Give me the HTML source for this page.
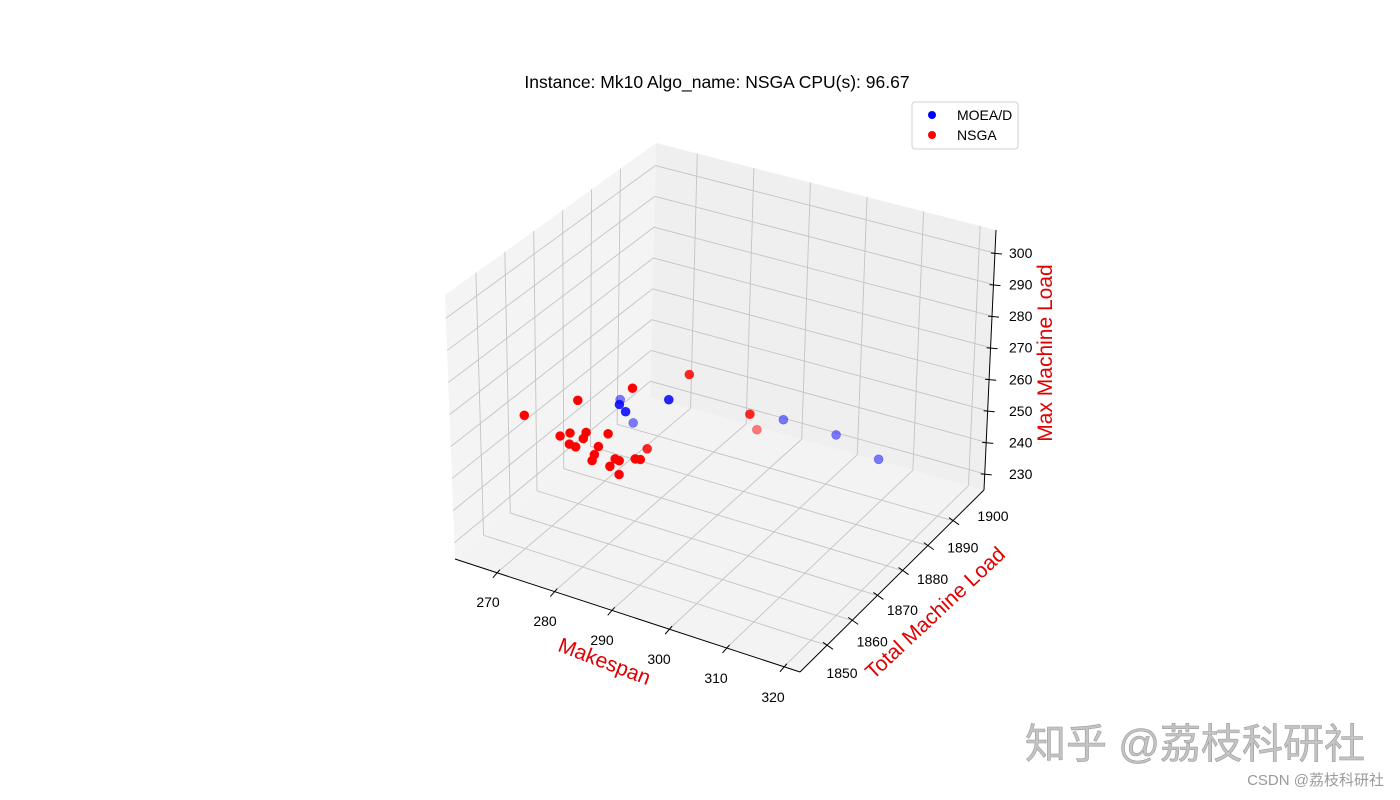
<!DOCTYPE html>
<html><head><meta charset="utf-8">
<style>
html,body{margin:0;padding:0;background:#fff;}
#wrap{position:relative;width:1400px;height:800px;overflow:hidden;font-family:"Liberation Sans","DejaVu Sans",sans-serif;}
svg{position:absolute;left:0;top:0;}
</style></head>
<body>
<div id="wrap">
<svg id="chart" width="1400" height="800" viewBox="0 0 1400 800">
  <text x="717" y="88" text-anchor="middle" font-size="17.5" fill="#000">Instance: Mk10 Algo_name: NSGA CPU(s): 96.67</text>
  <g id="panes"></g>
  <g id="grid"></g>
  <g id="axes"></g>
  <g id="points"></g>
  <text x="0" y="0" transform="translate(602,668) rotate(21)" text-anchor="middle" font-size="21" fill="#e00000">Makespan</text>
  <text x="0" y="0" transform="translate(940,618) rotate(-43)" text-anchor="middle" font-size="21" fill="#e00000">Total Machine Load</text>
  <text x="0" y="0" transform="translate(1052,353) rotate(-90)" text-anchor="middle" font-size="21" fill="#e00000">Max Machine Load</text>
  <g>
    <rect x="912" y="102" width="106" height="47" rx="3" fill="#fff" stroke="#d0d0d0"/>
    <circle cx="932" cy="115" r="4" fill="#0000ff"/>
    <text x="957" y="120" font-size="14" fill="#000">MOEA/D</text>
    <circle cx="932" cy="135" r="4" fill="#ff0000"/>
    <text x="957" y="140" font-size="14" fill="#000">NSGA</text>
  </g>
  <text x="1195" y="758" text-anchor="middle" font-size="41" fill="#c4c4c4" stroke="#9a9a9a" stroke-width="0.6" font-family="'Liberation Sans','Noto Sans CJK SC',sans-serif">知乎 @荔枝科研社</text>
  <text x="1384" y="785" text-anchor="end" font-size="15" fill="#9a9a9a" font-family="'Liberation Sans','Noto Sans CJK SC',sans-serif">CSDN @荔枝科研社</text>
</svg>
</div>
<script>
const xTicks = [270, 280, 290, 300, 310, 320];
const yTicks = [1850, 1860, 1870, 1880, 1890, 1900];
const zTicks = [230, 240, 250, 260, 270, 280, 290, 300];
const moeaMakespan = [271.2, 274.5, 275.6, 273.5, 283.1, 296.5, 309.0, 313.4];
const moeaTotalLoad = [1883.1, 1875.8, 1875.8, 1883.1, 1875.8, 1890.4, 1883.1, 1890.4];
const moeaMaxLoad = [249.2, 254.5, 252.8, 243.0, 260.5, 250.6, 257.5, 246.7];
const nsgaMakespan = [286.6, 280.2, 274.2, 264.9, 267.6, 272.8, 275.6, 279.4, 269.2, 270.3, 275.1, 277.7, 279.4, 277.0, 276.6, 280.6, 281.3, 280.7, 281.6, 279.7, 277.9, 297.2, 295.2];
const nsgaTotalLoad = [1875.8, 1868.5, 1861.2, 1861.2, 1868.5, 1861.2, 1861.2, 1861.2, 1868.5, 1868.5, 1861.2, 1861.2, 1875.8, 1861.2, 1861.2, 1861.2, 1861.2, 1868.5, 1868.5, 1861.2, 1868.5, 1875.8, 1883.1];
const nsgaMaxLoad = [270.2, 267.7, 265.8, 256.1, 246.0, 254.8, 256.5, 258.1, 244.3, 244.0, 254.3, 253.2, 243.1, 250.3, 248.2, 250.9, 250.7, 245.8, 246.1, 248.1, 239.4, 263.2, 252.1];

const NS = 'http://www.w3.org/2000/svg';
const X0 = 262.7, X1 = 322.8, Y0 = 1839.3, Y1 = 1912.3, Z0 = 224.9, Z1 = 307.3;
const FL = {a:[455,559], b:[800,672], c:[984,490], d:[650,397]};
const TP = {a:[445,295], b:[810,395], c:[996,230], d:[656,143]};
function bil(C, u, v){
  return [0,1].map(i => (1-u)*(1-v)*C.a[i] + u*(1-v)*C.b[i] + u*v*C.c[i] + (1-u)*v*C.d[i]);
}
function proj(fx, fy, fz){
  const f = bil(FL, fx, fy), t = bil(TP, fx, fy);
  return [f[0] + fz*(t[0]-f[0]), f[1] + fz*(t[1]-f[1])];
}
const fxOf = v => (v - X0)/(X1 - X0);
const fyOf = v => (v - Y0)/(Y1 - Y0);
const fzOf = v => (v - Z0)/(Z1 - Z0);

function mk(tag, attrs, parent){
  const e = document.createElementNS(NS, tag);
  for (const k in attrs) e.setAttribute(k, attrs[k]);
  parent.appendChild(e);
  return e;
}
function poly(pts){ return pts.map(p => p[0].toFixed(1)+','+p[1].toFixed(1)).join(' '); }

const panes = document.getElementById('panes');
let el;
el = mk('polygon', {points: poly([proj(0,0,0),proj(1,0,0),proj(1,1,0),proj(0,1,0)]), fill:'#f3f3f3'}, panes);


el = mk('polygon', {points: poly([proj(0,0,0),proj(0,1,0),proj(0,1,1),proj(0,0,1)]), fill:'#f4f4f4'}, panes);


el = mk('polygon', {points: poly([proj(0,1,0),proj(1,1,0),proj(1,1,1),proj(0,1,1)]), fill:'#efefef'}, panes);



const grid = document.getElementById('grid');
function gl(p, q, name){
  const l = mk('line', {x1:p[0], y1:p[1], x2:q[0], y2:q[1], stroke:'#c4c4c4', 'stroke-width':0.9}, grid);
  
  
}
xTicks.forEach(v => { const f = fxOf(v);
  gl(proj(f,0,0), proj(f,1,0), 'floor-gridline-x');
  gl(proj(f,1,0), proj(f,1,1), 'back-gridline-x'); });
yTicks.forEach(v => { const f = fyOf(v);
  gl(proj(0,f,0), proj(1,f,0), 'floor-gridline-y');
  gl(proj(0,f,0), proj(0,f,1), 'left-gridline-y'); });
zTicks.forEach(v => { const f = fzOf(v);
  gl(proj(0,0,f), proj(0,1,f), 'left-gridline-z');
  gl(proj(0,1,f), proj(1,1,f), 'back-gridline-z'); });

const axes = document.getElementById('axes');
function al(p, q, name){
  const l = mk('line', {x1:p[0], y1:p[1], x2:q[0], y2:q[1], stroke:'#000', 'stroke-width':1}, axes);
  
  
}
function tx(x, y, s, anchor, name){
  const t = mk('text', {x:x, y:y, 'font-size':14, 'text-anchor':anchor, fill:'#000'}, axes);
  t.textContent = s;
  
  
}
al(proj(0,0,0), proj(1,0,0), 'x-axis-line');
al(proj(1,0,0), proj(1,1,0), 'y-axis-line');
al(proj(1,1,0), proj(1,1,1), 'z-axis-line');
xTicks.forEach((v, i) => { const p = proj(fxOf(v),0,0);
  al([p[0]+3,p[1]-3], [p[0]-4,p[1]+5], 'x-tick');
  const t = (v - 270)/50;
  tx(488 + t*285, 607 + t*95, String(v), 'middle', 'x-tick-label'); });
yTicks.forEach(v => { const p = proj(1,fyOf(v),0);
  al([p[0]-4,p[1]-3], [p[0]+6,p[1]+4], 'y-tick');
  const t = (v - 1850)/50;
  tx(842 + t*151, 678 - t*157, String(v), 'middle', 'y-tick-label'); });
zTicks.forEach(v => { const p = proj(1,1,fzOf(v));
  al([p[0]-4,p[1]], [p[0]+7,p[1]+1], 'z-tick');
  const t = (v - 230)/70;
  tx(1009, 479 - t*221, String(v), 'start', 'z-tick-label'); });

const pts = document.getElementById('points');
const all = [];
moeaMakespan.forEach((v, i) => all.push({x:v, y:moeaTotalLoad[i], z:moeaMaxLoad[i], c:'#0000ff', s:'moead'}));
nsgaMakespan.forEach((v, i) => all.push({x:v, y:nsgaTotalLoad[i], z:nsgaMaxLoad[i], c:'#ff0000', s:'nsga'}));
all.sort((a, b) => fyOf(b.y) - fyOf(a.y));
all.forEach(d => {
  const fy = fyOf(d.y), p = proj(fxOf(d.x), fy, fzOf(d.z));
  const op = fy >= 0.55 ? 0.5 : (fy >= 0.45 ? 0.85 : 1);
  const c = mk('circle', {cx:p[0].toFixed(1), cy:p[1].toFixed(1), r:4.5, fill:d.c, 'fill-opacity':op, stroke:d.c, 'stroke-opacity':op*0.8, 'stroke-width':0.6}, pts);
  
  
});
</script>
</body></html>
